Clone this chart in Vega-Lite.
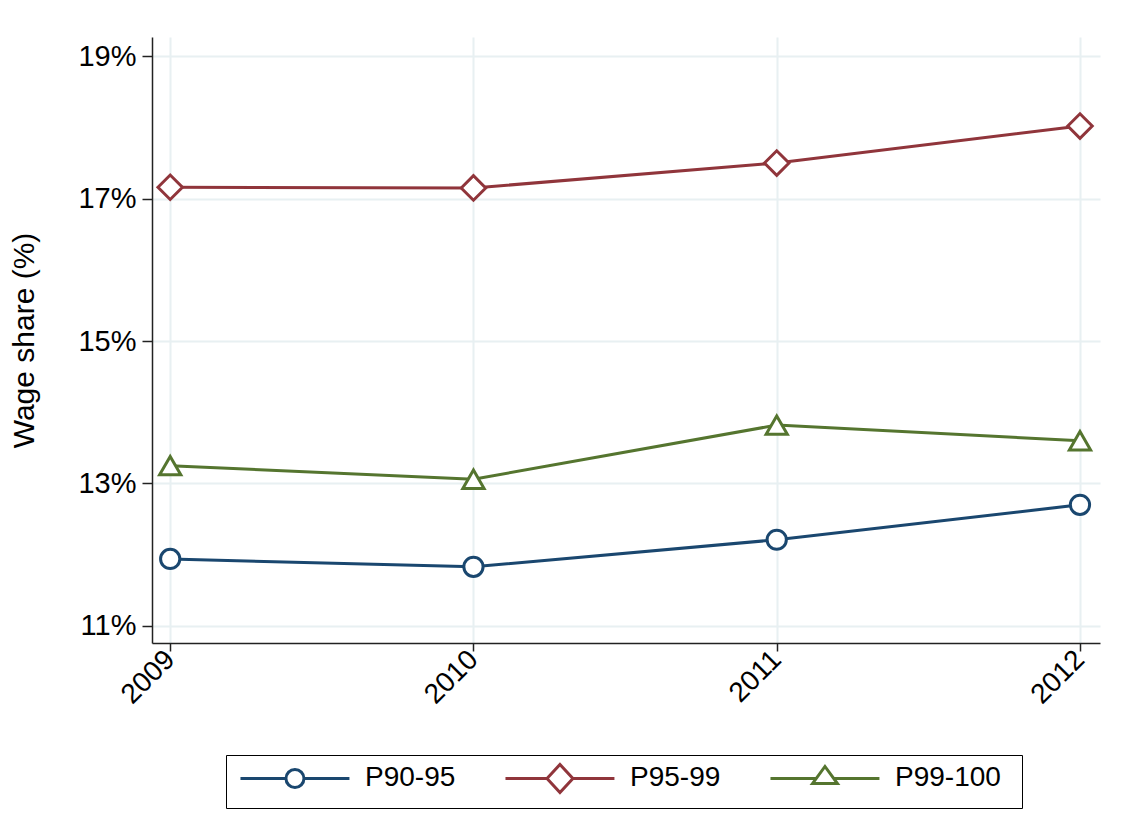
{
  "$schema": "https://vega.github.io/schema/vega-lite/v6.json",
  "autosize": "none",
  "width": 948,
  "height": 606,
  "padding": {"left": 152, "top": 37, "right": 22, "bottom": 197},
  "background": "white",
  "config": {
    "view": {"stroke": null},
    "font": "Liberation Sans"
  },
  "data": {
    "values": [
      {"year": 2009, "group": "P90-95", "share": 11.94},
      {"year": 2010, "group": "P90-95", "share": 11.83},
      {"year": 2011, "group": "P90-95", "share": 12.21},
      {"year": 2012, "group": "P90-95", "share": 12.70},
      {"year": 2009, "group": "P95-99", "share": 17.16},
      {"year": 2010, "group": "P95-99", "share": 17.15},
      {"year": 2011, "group": "P95-99", "share": 17.50},
      {"year": 2012, "group": "P95-99", "share": 18.02},
      {"year": 2009, "group": "P99-100", "share": 13.25},
      {"year": 2010, "group": "P99-100", "share": 13.06},
      {"year": 2011, "group": "P99-100", "share": 13.82},
      {"year": 2012, "group": "P99-100", "share": 13.60}
    ]
  },
  "encoding": {
    "x": {
      "field": "year", "type": "quantitative",
      "scale": {"domain": [2008.94, 2012.066], "nice": false, "zero": false},
      "axis": {
        "title": null, "values": [2009, 2010, 2011, 2012], "format": "d",
        "labelAngle": -45, "labelFontSize": 28, "labelColor": "black",
        "labelAlign": "right", "labelBaseline": "middle", "labelPadding": 4,
        "domainColor": "#222", "domainWidth": 1.5, "tickColor": "#222", "tickWidth": 1.5, "tickSize": 8,
        "grid": true, "gridColor": "#e8f0f2", "gridWidth": 2
      }
    },
    "y": {
      "field": "share", "type": "quantitative",
      "scale": {"domain": [10.76, 19.27], "nice": false, "zero": false},
      "axis": {
        "title": "Wage share (%)", "titleFontSize": 30, "titleFontWeight": "normal", "titleColor": "black", "titlePadding": 38,
        "values": [11, 13, 15, 17, 19], "labelExpr": "datum.value + '%'",
        "labelFontSize": 29, "labelColor": "black", "labelPadding": 6,
        "domainColor": "#222", "domainWidth": 1.5, "tickColor": "#222", "tickWidth": 1.5, "tickSize": 10,
        "grid": true, "gridColor": "#e8f0f2", "gridWidth": 2
      }
    },
    "color": {
      "field": "group", "type": "nominal",
      "scale": {"domain": ["P90-95", "P95-99", "P99-100"], "range": ["#1a476f", "#90353b", "#55752f"]},
      "legend": {
        "title": null, "orient": "none", "legendX": 74, "legendY": 718,
        "direction": "horizontal", "columns": 3, "gridAlign": "all",
        "columnPadding": 16, "labelFontSize": 28, "labelColor": "black", "labelOffset": 102, "labelLimit": 300,
        "symbolSize": 576, "symbolStrokeWidth": 3, "symbolFillColor": "white",
        "strokeColor": "black", "fillColor": "white", "padding": 9,
        "encode": {
          "symbols": {
            "update": {
              "shape": {"signal": "datum.value === 'P90-95' ? 'M3.83,-1.17M3.83,1.17M19.0,0M-0.71,0H3.08M4.58,0H8.37M3.08,0A0.75,0.75,0,1,1,4.58,0A0.75,0.75,0,1,1,3.08,0Z' : datum.value === 'P95-99' ? 'M3.83,-1.17M3.83,1.17M19.0,0M-0.71,0H2.75M4.91,0H8.37M2.75,0L3.83,-1.17L4.91,0L3.83,1.17Z' : 'M3.83,-1.17M3.83,1.17M19.0,0M-0.71,0H3.1M4.56,0H8.37M2.79,0.42L3.83,-1.0L4.87,0.42Z'"},
              "fill": {"value": "white"},
              "strokeWidth": {"value": 3}
            }
          }
        }
      }
    }
  },
  "layer": [
    {"mark": {"type": "line", "strokeWidth": 3}},
    {
      "transform": [{"filter": "datum.group === 'P90-95'"}],
      "mark": {"type": "point", "shape": "circle", "filled": false, "fill": "white", "fillOpacity": 1, "strokeWidth": 3, "opacity": 1, "size": 370}
    },
    {
      "transform": [{"filter": "datum.group === 'P95-99'"}],
      "mark": {"type": "point", "shape": "diamond", "filled": false, "fill": "white", "fillOpacity": 1, "strokeWidth": 3, "opacity": 1, "size": 600}
    },
    {
      "transform": [{"filter": "datum.group === 'P99-100'"}],
      "mark": {"type": "point", "shape": "triangle-up", "filled": false, "fill": "white", "fillOpacity": 1, "strokeWidth": 3, "opacity": 1, "size": 450}
    }
  ]
}
